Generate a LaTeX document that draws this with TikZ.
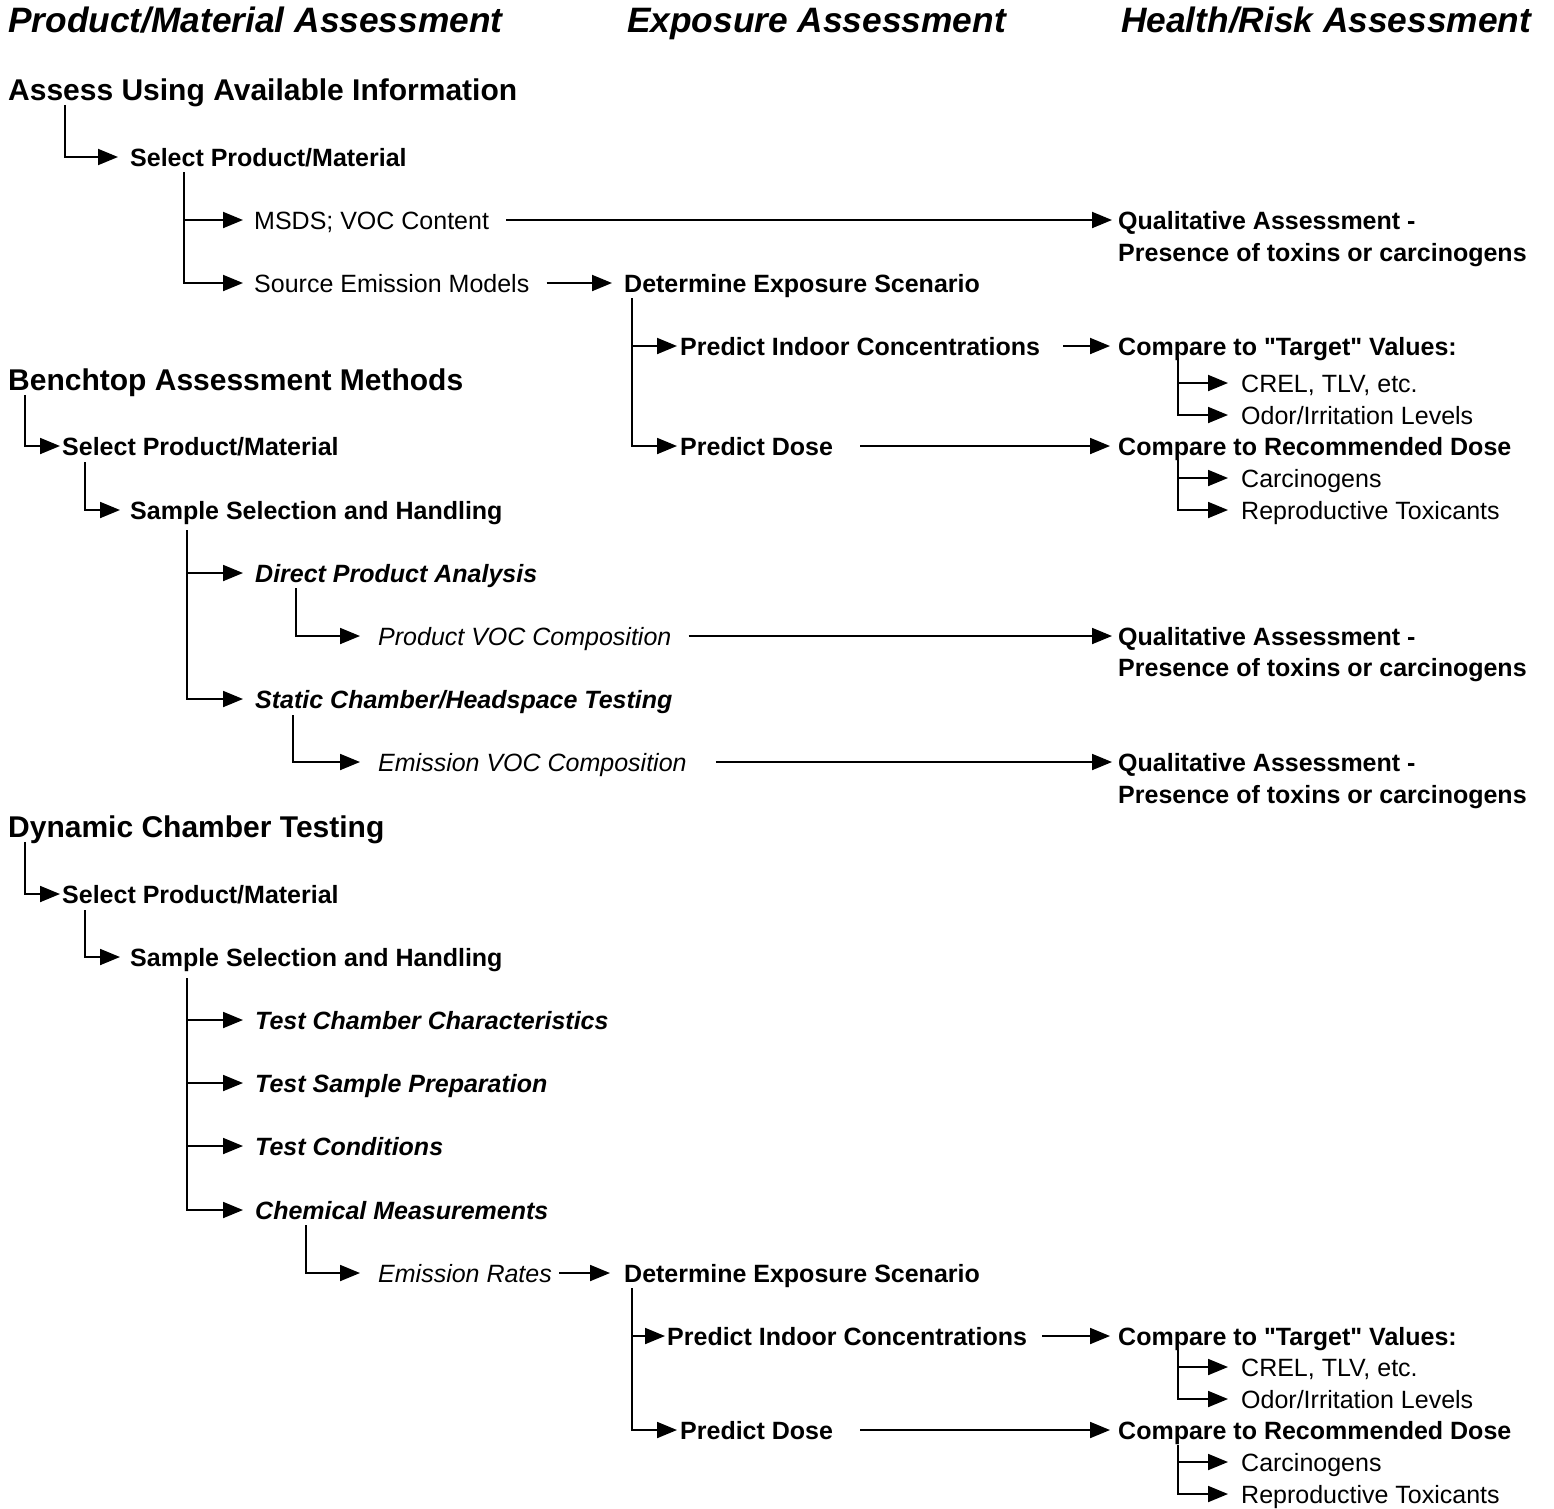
\documentclass[tikz,border=0pt]{standalone}
\usepackage{fontspec}
\setmainfont{Liberation Sans}
\newfontfamily\qfont{Liberation Sans}
\usetikzlibrary{arrows.meta}
\newcommand{\dq}{{\qfont\bfseries"}}
\tikzset{
  base/.style={inner sep=0pt, anchor=west, text depth=0pt},
  hd/.style={base, font=\fontsize{35.3}{40}\selectfont\bfseries\itshape, text height=25pt},
  lvone/.style={base, font=\fontsize{30}{36}\selectfont\bfseries, text height=21.5pt},
  bt/.style={base, font=\fontsize{25}{30}\selectfont\bfseries, text height=18pt},
  bi/.style={base, font=\fontsize{25}{30}\selectfont\bfseries\itshape, text height=18pt},
  rg/.style={base, font=\fontsize{25}{30}\selectfont, text height=18pt},
  it/.style={base, font=\fontsize{25}{30}\selectfont\itshape, text height=18pt},
  conn/.style={draw=black, line width=1.9pt, -{Triangle[length=20pt,width=16pt]}},
  tipgap/.style={shorten >=#1},
  startgap/.style={shorten <=#1}
}
\begin{document}
\begin{tikzpicture}[x=1pt,y=-1pt]
\useasboundingbox (0,0) rectangle (1554,1508);
\fill[white] (0,0) rectangle (1554,1508);

% headers
\node[hd] (h1) at (8,20) {Product/Material Assessment};
\node[hd] (h2) at (627,20) {Exposure Assessment};
\node[hd] (h3) at (1121,20) {Health/Risk Assessment};

% ---------- Section 1 ----------
\node[lvone] (a1) at (8,90) {Assess Using Available Information};
\node[bt] (a2) at (130,157) {Select Product/Material};
\node[rg] (a3) at (254,220) {MSDS; VOC Content};
\node[rg] (a4) at (254,283) {Source Emission Models};
\node[bt] (q1) at (1118,220) {Qualitative Assessment -};
\node[bt] (q1b) at (1118,252) {Presence of toxins or carcinogens};
\node[bt] (d1) at (624,283) {Determine Exposure Scenario};
\node[bt] (pc1) at (680,346) {Predict Indoor Concentrations};
\node[bt] (pd1) at (680,446) {Predict Dose};
\node[bt] (ct1) at (1118,346) {Compare to \dq Target\dq{} Values:};
\node[rg] (cr1) at (1241,383) {CREL, TLV, etc.};
\node[rg] (oi1) at (1241,415) {Odor/Irritation Levels};
\node[bt] (cd1) at (1118,446) {Compare to Recommended Dose};
\node[rg] (ca1) at (1241,478) {Carcinogens};
\node[rg] (rt1) at (1241,510) {Reproductive Toxicants};

\draw[conn, tipgap=12pt] ([xshift=57pt,yshift=-4pt]a1.south west) |- (a2.west);
\draw[conn, tipgap=11pt] ([xshift=54pt,yshift=-6pt]a2.south west) |- (a3.west);
\draw[conn, tipgap=11pt] ([xshift=54pt,yshift=-6pt]a2.south west) |- (a4.west);
\draw[conn, startgap=17pt, tipgap=6pt] (a3.east) -- (q1.west);
\draw[conn, startgap=17pt, tipgap=12pt] (a4.east) -- (d1.west);
\draw[conn, tipgap=3pt] ([xshift=8pt,yshift=-6pt]d1.south west) |- (pc1.west);
\draw[conn, tipgap=3pt] ([xshift=8pt,yshift=-6pt]d1.south west) |- (pd1.west);
\draw[conn, startgap=23pt, tipgap=8pt] (pc1.east) -- (ct1.west);
\draw[conn, startgap=27pt, tipgap=8pt] (pd1.east) -- (cd1.west);
\draw[conn, tipgap=13pt] ([xshift=60pt,yshift=-3pt]ct1.south west) |- (cr1.west);
\draw[conn, tipgap=13pt] ([xshift=60pt,yshift=-3pt]ct1.south west) |- (oi1.west);
\draw[conn, tipgap=13pt] ([xshift=60pt,yshift=-5pt]cd1.south west) |- (ca1.west);
\draw[conn, tipgap=13pt] ([xshift=60pt,yshift=-5pt]cd1.south west) |- (rt1.west);

% ---------- Section 2 ----------
\node[lvone] (b1) at (8,380) {Benchtop Assessment Methods};
\node[bt] (b2) at (62,446) {Select Product/Material};
\node[bt] (b3) at (130,510) {Sample Selection and Handling};
\node[bi] (b4) at (255,573) {Direct Product Analysis};
\node[it] (b5) at (378,636) {Product VOC Composition};
\node[bt] (q2) at (1118,636) {Qualitative Assessment -};
\node[bt] (q2b) at (1118,667) {Presence of toxins or carcinogens};
\node[bi] (b6) at (255,699) {Static Chamber/Headspace Testing};
\node[it] (b7) at (378,762) {Emission VOC Composition};
\node[bt] (q3) at (1118,762) {Qualitative Assessment -};
\node[bt] (q3b) at (1118,794) {Presence of toxins or carcinogens};

\draw[conn, tipgap=2pt] ([xshift=17pt,yshift=-4pt]b1.south west) |- (b2.west);
\draw[conn, tipgap=10pt] ([xshift=23pt,yshift=-7pt]b2.south west) |- (b3.west);
\draw[conn, tipgap=12pt] ([xshift=57pt,yshift=-11pt]b3.south west) |- (b4.west);
\draw[conn, tipgap=12pt] ([xshift=57pt,yshift=-11pt]b3.south west) |- (b6.west);
\draw[conn, tipgap=18pt] ([xshift=41pt,yshift=-6pt]b4.south west) |- (b5.west);
\draw[conn, startgap=17pt, tipgap=6pt] (b5.east) -- (q2.west);
\draw[conn, tipgap=18pt] ([xshift=38pt,yshift=-7pt]b6.south west) |- (b7.west);
\draw[conn, startgap=29pt, tipgap=6pt] (b7.east) -- (q3.west);

% ---------- Section 3 ----------
\node[lvone] (c1) at (8,827) {Dynamic Chamber Testing};
\node[bt] (c2) at (62,894) {Select Product/Material};
\node[bt] (c3) at (130,957) {Sample Selection and Handling};
\node[bi] (c4) at (255,1020) {Test Chamber Characteristics};
\node[bi] (c5) at (255,1083) {Test Sample Preparation};
\node[bi] (c6) at (255,1146) {Test Conditions};
\node[bi] (c7) at (255,1210) {Chemical Measurements};
\node[it] (c8) at (378,1273) {Emission Rates};
\node[bt] (d2) at (624,1273) {Determine Exposure Scenario};
\node[bt] (pc2) at (667,1336) {Predict Indoor Concentrations};
\node[bt] (pd2) at (680,1430) {Predict Dose};
\node[bt] (ct2) at (1118,1336) {Compare to \dq Target\dq{} Values:};
\node[rg] (cr2) at (1241,1367) {CREL, TLV, etc.};
\node[rg] (oi2) at (1241,1399) {Odor/Irritation Levels};
\node[bt] (cd2) at (1118,1430) {Compare to Recommended Dose};
\node[rg] (ca2) at (1241,1462) {Carcinogens};
\node[rg] (rt2) at (1241,1494) {Reproductive Toxicants};

\draw[conn, tipgap=2pt] ([xshift=17pt,yshift=-4pt]c1.south west) |- (c2.west);
\draw[conn, tipgap=10pt] ([xshift=23pt,yshift=-7pt]c2.south west) |- (c3.west);
\draw[conn, tipgap=12pt] ([xshift=57pt,yshift=-12pt]c3.south west) |- (c4.west);
\draw[conn, tipgap=12pt] ([xshift=57pt,yshift=-12pt]c3.south west) |- (c5.west);
\draw[conn, tipgap=12pt] ([xshift=57pt,yshift=-12pt]c3.south west) |- (c6.west);
\draw[conn, tipgap=12pt] ([xshift=57pt,yshift=-12pt]c3.south west) |- (c7.west);
\draw[conn, tipgap=18pt] ([xshift=51pt,yshift=-6pt]c7.south west) |- (c8.west);
\draw[conn, startgap=7pt, tipgap=14pt] (c8.east) -- (d2.west);
\draw[conn, tipgap=2pt] ([xshift=8pt,yshift=-6pt]d2.south west) |- (pc2.west);
\draw[conn, tipgap=3pt] ([xshift=8pt,yshift=-6pt]d2.south west) |- (pd2.west);
\draw[conn, startgap=15pt, tipgap=8pt] (pc2.east) -- (ct2.west);
\draw[conn, startgap=27pt, tipgap=8pt] (pd2.east) -- (cd2.west);
\draw[conn, tipgap=13pt] ([xshift=60pt,yshift=-5pt]ct2.south west) |- (cr2.west);
\draw[conn, tipgap=13pt] ([xshift=60pt,yshift=-5pt]ct2.south west) |- (oi2.west);
\draw[conn, tipgap=13pt] ([xshift=60pt,yshift=-6pt]cd2.south west) |- (ca2.west);
\draw[conn, tipgap=13pt] ([xshift=60pt,yshift=-6pt]cd2.south west) |- (rt2.west);
\end{tikzpicture}
\end{document}
